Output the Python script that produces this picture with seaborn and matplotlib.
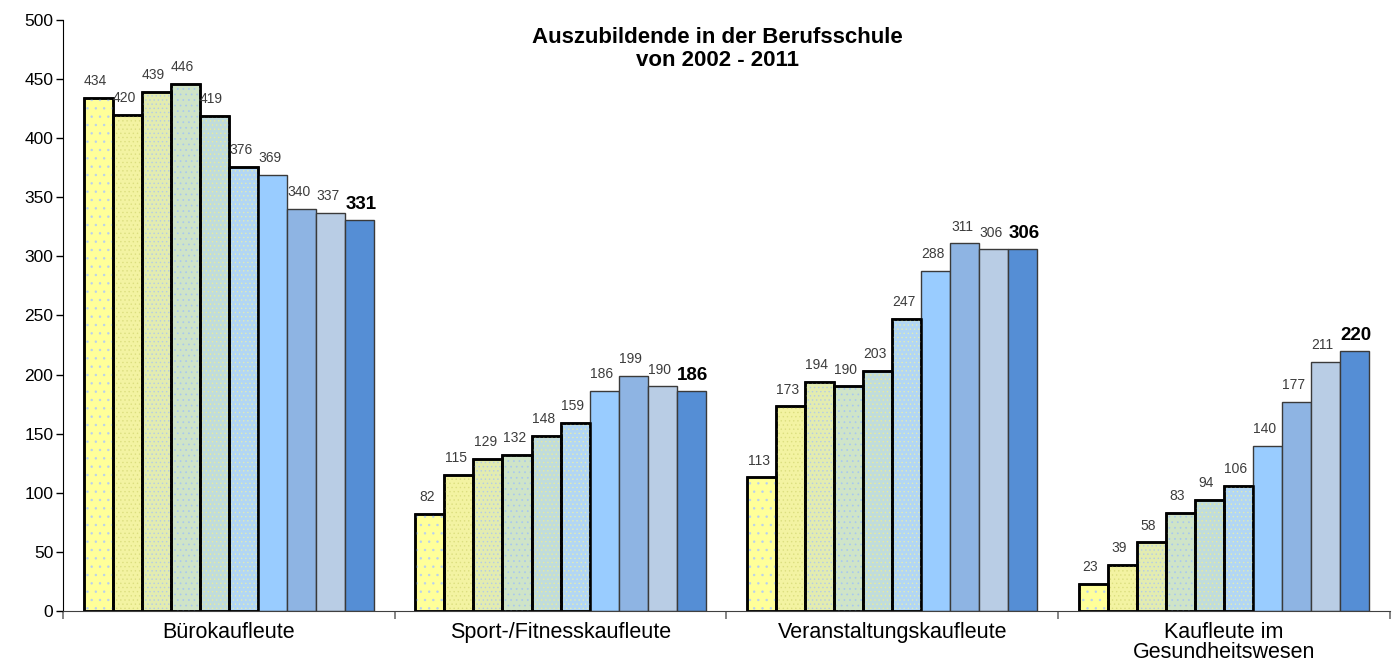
import pandas as pd
import numpy as np
import seaborn as sns
import matplotlib.pyplot as plt
from matplotlib.patches import Rectangle

# Auszubildende in der Berufsschule, 2002 - 2011
categories = ["Bürokaufleute", "Sport-/Fitnesskaufleute",
              "Veranstaltungskaufleute", "Kaufleute im\nGesundheitswesen"]
years = ["2002", "2003", "2004", "2005", "2006",
         "2007", "2008", "2009", "2010", "2011"]

v2002 = [434, 82, 113, 23]
v2003 = [420, 115, 173, 39]
v2004 = [439, 129, 194, 58]
v2005 = [446, 132, 190, 83]
v2006 = [419, 148, 203, 94]
v2007 = [376, 159, 247, 106]
v2008 = [369, 186, 288, 140]
v2009 = [340, 199, 311, 177]
v2010 = [337, 190, 306, 211]
v2011 = [331, 186, 306, 220]
values = [v2002, v2003, v2004, v2005, v2006, v2007, v2008, v2009, v2010, v2011]

yticks = [0, 50, 100, 150, 200, 250, 300, 350, 400, 450, 500]

rows = []
for yr, vals in zip(years, values):
    for cat, v in zip(categories, vals):
        rows.append({"Beruf": cat, "Jahr": yr, "Anzahl": v})
df = pd.DataFrame(rows)

# colours per year (first six are dotted fills)
palette = {"2002": "#ffff99", "2003": "#f3f3a2", "2004": "#e3ecb0",
           "2005": "#cfe4c8", "2006": "#c0dcdc", "2007": "#b2d6f4",
           "2008": "#99ccff", "2009": "#8eb4e3", "2010": "#b9cde5",
           "2011": "#558ed5"}
hatch_col = {"2002": "#b8d0f0", "2003": "#dcdf80", "2004": "#b4cce6",
             "2005": "#a8c8f0", "2006": "#e8ec9c", "2007": "#e2ecb4"}
hatches = {"2002": "..", "2003": "....", "2004": "....",
           "2005": "...", "2006": "....", "2007": "...."}

plt.rcParams['font.family'] = ['Liberation Sans', 'DejaVu Sans']
plt.rcParams['hatch.linewidth'] = 0.5

fig = plt.figure(figsize=(13.92, 6.67), dpi=100)
ax = fig.add_axes([0.0453, 0.084, 0.953, 0.886])

sns.barplot(data=df, x="Beruf", y="Anzahl", hue="Jahr", order=categories,
            hue_order=years, palette=palette, width=0.875, saturation=1,
            legend=False, ax=ax)

for yr, cont in zip(years, ax.containers):
    for bar in cont:
        if yr in hatches:
            bar.set_edgecolor('black')
            bar.set_linewidth(1.8)
            # light dot texture laid over the bar
            dots = Rectangle(bar.get_xy(), bar.get_width(), bar.get_height(),
                             facecolor='none', edgecolor=hatch_col[yr],
                             linewidth=0, hatch=hatches[yr], zorder=bar.get_zorder() + 0.1)
            ax.add_patch(dots)
            # keep outline on top
            outline = Rectangle(bar.get_xy(), bar.get_width(), bar.get_height(),
                                facecolor='none', edgecolor='black', linewidth=1.8,
                                zorder=bar.get_zorder() + 0.2)
            ax.add_patch(outline)
        else:
            bar.set_edgecolor('#3a3a3a')
            bar.set_linewidth(1.0)
        h = bar.get_height()
        x = bar.get_x() + bar.get_width() / 2
        if yr == years[-1]:
            ax.annotate(f"{h:.0f}", (x, h), xytext=(1, 5), textcoords='offset points',
                        ha='center', va='bottom', fontsize=13.5, fontweight='bold',
                        color='black')
        else:
            ax.annotate(f"{h:.0f}", (x, h), xytext=(-2, 7), textcoords='offset points',
                        ha='center', va='bottom', fontsize=10, color='#3c3c3c')

#axes format
ax.set_xlim(-0.5, 3.5)
ax.set_ylim(0, 500)
ax.set_yticks(yticks)
ax.tick_params(axis='y', length=5, width=1, labelsize=12.5, pad=2, colors='black')
ax.set_xticks(range(len(categories)))
ax.set_xticklabels(categories, fontsize=15.5, linespacing=0.95)
ax.tick_params(axis='x', which='major', length=0, pad=8)
ax.set_xticks([-0.5, 0.5, 1.5, 2.5, 3.5], minor=True)
ax.tick_params(axis='x', which='minor', length=6, width=1.2, color='#707070')
ax.set_xlabel("")
ax.set_ylabel("")

for pos in ['right', 'top']:
    ax.spines[pos].set_visible(False)
ax.spines['left'].set_color('black')
ax.spines['bottom'].set_color('#404040')

ax.text(0.493, 0.988, "Auszubildende in der Berufsschule\nvon 2002 - 2011",
        transform=ax.transAxes, ha='center', va='top', fontsize=16,
        fontweight='bold', linespacing=1.1)

fig.savefig("out.png", dpi=100)
